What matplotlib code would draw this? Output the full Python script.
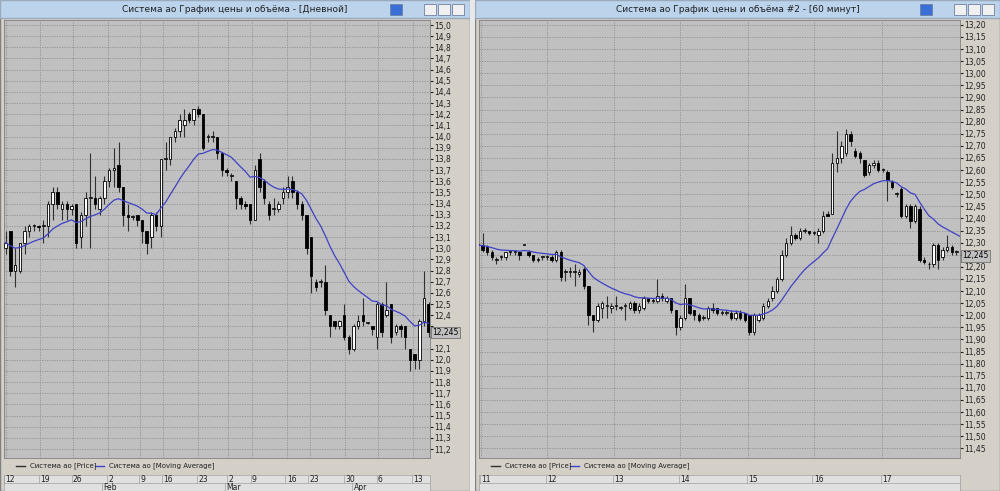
import numpy as np
import pandas as pd
import matplotlib
matplotlib.use("Agg")
import matplotlib.pyplot as plt
from matplotlib.patches import Rectangle
from matplotlib.lines import Line2D

# дневной график: (open, close, high, low)
left_ohlc = [
    (13.00, 13.05, 13.15, 12.95), (13.15, 12.80, 13.15, 12.75), (12.80, 12.85, 13.00, 12.65),
    (12.80, 13.05, 13.05, 12.78), (13.05, 13.15, 13.20, 12.95), (13.15, 13.20, 13.22, 13.10),
    (13.20, 13.20, 13.22, 13.15), (13.20, 13.19, 13.21, 13.15), (13.20, 13.20, 13.25, 13.05),
    (13.20, 13.40, 13.42, 13.10), (13.40, 13.50, 13.55, 13.25), (13.50, 13.40, 13.55, 13.35),
    (13.35, 13.40, 13.42, 13.25), (13.40, 13.35, 13.42, 13.25), (13.35, 13.38, 13.40, 13.30),
    (13.40, 13.05, 13.40, 13.00), (13.10, 13.30, 13.32, 13.00), (13.30, 13.45, 13.50, 13.20),
    (13.45, 13.45, 13.85, 13.00), (13.45, 13.40, 13.65, 13.35), (13.35, 13.45, 13.47, 13.30),
    (13.45, 13.60, 13.65, 13.40), (13.60, 13.70, 13.72, 13.55), (13.70, 13.72, 13.90, 13.55),
    (13.75, 13.55, 13.95, 13.50), (13.55, 13.30, 13.55, 13.20), (13.30, 13.28, 13.40, 13.15),
    (13.28, 13.28, 13.30, 13.25), (13.30, 13.25, 13.30, 13.20), (13.25, 13.15, 13.25, 13.05),
    (13.15, 13.05, 13.15, 12.95), (13.10, 13.30, 13.32, 13.00), (13.30, 13.20, 13.32, 13.15),
    (13.20, 13.80, 13.80, 13.10), (13.80, 13.80, 13.95, 13.70), (13.80, 14.00, 14.00, 13.75),
    (14.00, 14.05, 14.08, 13.95), (14.05, 14.15, 14.20, 14.00), (14.10, 14.15, 14.25, 14.00),
    (14.20, 14.15, 14.22, 14.12), (14.15, 14.25, 14.25, 14.10), (14.25, 14.20, 14.27, 14.18),
    (14.20, 13.90, 14.20, 13.88), (14.00, 14.00, 14.02, 13.95), (14.00, 14.00, 14.05, 13.95),
    (14.00, 13.85, 14.00, 13.80), (13.85, 13.70, 13.85, 13.65), (13.70, 13.68, 13.72, 13.65),
    (13.65, 13.65, 13.67, 13.60), (13.60, 13.45, 13.60, 13.35), (13.45, 13.40, 13.47, 13.35),
    (13.40, 13.38, 13.42, 13.35), (13.40, 13.25, 13.40, 13.22), (13.25, 13.70, 13.75, 13.25),
    (13.80, 13.55, 13.85, 13.50), (13.60, 13.45, 13.62, 13.40), (13.40, 13.30, 13.42, 13.25),
    (13.35, 13.35, 13.45, 13.30), (13.35, 13.40, 13.42, 13.32), (13.45, 13.50, 13.55, 13.40),
    (13.50, 13.55, 13.65, 13.45), (13.60, 13.50, 13.65, 13.45), (13.50, 13.40, 13.52, 13.35),
    (13.40, 13.30, 13.42, 13.25), (13.30, 13.00, 13.30, 12.95), (13.10, 12.75, 13.10, 12.60),
    (12.70, 12.65, 12.72, 12.62), (12.70, 12.70, 12.72, 12.65), (12.70, 12.45, 12.85, 12.40),
    (12.40, 12.30, 12.40, 12.20), (12.35, 12.30, 12.35, 12.28), (12.30, 12.35, 12.36, 12.28),
    (12.40, 12.20, 12.50, 12.18), (12.20, 12.10, 12.22, 12.05), (12.10, 12.30, 12.32, 12.08),
    (12.30, 12.35, 12.40, 12.28), (12.40, 12.35, 12.55, 12.30), (12.33, 12.33, 12.34, 12.32),
    (12.30, 12.28, 12.30, 12.22), (12.20, 12.50, 12.52, 12.10), (12.50, 12.25, 12.52, 12.20),
    (12.40, 12.45, 12.70, 12.38), (12.50, 12.20, 12.50, 12.15), (12.25, 12.30, 12.32, 12.22),
    (12.30, 12.28, 12.32, 12.20), (12.30, 12.20, 12.30, 12.10), (12.10, 12.00, 12.10, 11.90),
    (12.05, 12.00, 12.05, 11.92), (12.00, 12.35, 12.37, 11.92), (12.35, 12.55, 12.80, 12.30),
    (12.50, 12.25, 12.52, 12.20),
]

# 60-минутный график: (open, close, high, low)
right_ohlc = [
    (12.29, 12.29, 12.30, 12.28), (12.29, 12.27, 12.34, 12.26), (12.28, 12.26, 12.29, 12.25),
    (12.26, 12.24, 12.27, 12.23), (12.23, 12.23, 12.24, 12.21), (12.24, 12.24, 12.25, 12.23),
    (12.24, 12.26, 12.26, 12.23), (12.26, 12.26, 12.27, 12.25), (12.26, 12.26, 12.27, 12.25),
    (12.26, 12.25, 12.26, 12.23), (12.29, 12.29, 12.29, 12.29), (12.26, 12.25, 12.27, 12.24),
    (12.25, 12.23, 12.25, 12.22), (12.23, 12.23, 12.24, 12.22), (12.24, 12.24, 12.24, 12.23),
    (12.24, 12.24, 12.25, 12.23), (12.24, 12.23, 12.25, 12.22), (12.23, 12.26, 12.27, 12.22),
    (12.26, 12.16, 12.27, 12.14), (12.18, 12.18, 12.19, 12.14), (12.18, 12.18, 12.20, 12.16),
    (12.18, 12.18, 12.21, 12.12), (12.17, 12.18, 12.19, 12.16), (12.19, 12.12, 12.20, 12.11),
    (12.12, 12.00, 12.12, 11.96), (12.00, 11.98, 12.00, 11.93), (11.98, 12.04, 12.05, 11.97),
    (12.03, 12.05, 12.06, 11.99), (12.04, 12.04, 12.08, 11.99), (12.03, 12.04, 12.05, 12.01),
    (12.04, 12.04, 12.08, 12.02), (12.03, 12.03, 12.04, 12.02), (12.04, 12.04, 12.05, 11.98),
    (12.03, 12.05, 12.06, 12.02), (12.05, 12.02, 12.06, 12.01), (12.02, 12.04, 12.05, 12.01),
    (12.03, 12.07, 12.08, 12.02), (12.07, 12.06, 12.07, 12.05), (12.06, 12.06, 12.07, 12.05),
    (12.06, 12.08, 12.15, 12.05), (12.08, 12.07, 12.09, 12.06), (12.06, 12.07, 12.08, 12.05),
    (12.07, 12.02, 12.07, 12.01), (12.02, 11.95, 12.02, 11.92), (11.95, 11.99, 12.00, 11.94),
    (11.99, 12.07, 12.13, 11.98), (12.07, 12.01, 12.07, 12.00), (12.02, 12.00, 12.02, 11.98),
    (12.00, 11.98, 12.01, 11.97), (11.99, 11.99, 12.00, 11.98), (11.99, 12.03, 12.04, 11.98),
    (12.03, 12.02, 12.05, 12.01), (12.03, 12.01, 12.03, 12.00), (12.01, 12.01, 12.02, 12.00),
    (12.01, 12.01, 12.02, 12.00), (12.01, 11.99, 12.02, 11.98), (11.99, 12.01, 12.02, 11.98),
    (12.01, 11.99, 12.02, 11.98), (12.01, 11.98, 12.01, 11.97), (12.00, 11.93, 12.00, 11.92),
    (11.93, 12.00, 12.01, 11.92), (11.98, 12.00, 12.01, 11.97), (11.99, 12.04, 12.05, 11.98),
    (12.04, 12.06, 12.07, 12.03), (12.07, 12.10, 12.12, 12.06), (12.10, 12.15, 12.16, 12.09),
    (12.15, 12.25, 12.27, 12.14), (12.25, 12.30, 12.32, 12.24), (12.30, 12.33, 12.37, 12.29),
    (12.33, 12.32, 12.34, 12.31), (12.32, 12.35, 12.36, 12.31), (12.35, 12.35, 12.36, 12.34),
    (12.35, 12.34, 12.35, 12.33), (12.34, 12.34, 12.35, 12.33), (12.33, 12.35, 12.36, 12.30),
    (12.35, 12.41, 12.43, 12.34), (12.42, 12.41, 12.43, 12.41), (12.42, 12.63, 12.67, 12.42),
    (12.63, 12.65, 12.76, 12.59), (12.65, 12.70, 12.72, 12.63), (12.67, 12.75, 12.77, 12.66),
    (12.75, 12.72, 12.76, 12.70), (12.68, 12.66, 12.69, 12.65), (12.67, 12.65, 12.68, 12.63),
    (12.64, 12.58, 12.64, 12.57), (12.59, 12.62, 12.63, 12.58), (12.62, 12.63, 12.64, 12.61),
    (12.63, 12.60, 12.64, 12.59), (12.60, 12.60, 12.61, 12.59), (12.59, 12.56, 12.60, 12.47),
    (12.55, 12.53, 12.56, 12.52), (12.50, 12.50, 12.51, 12.49), (12.52, 12.41, 12.53, 12.40),
    (12.41, 12.45, 12.46, 12.40), (12.45, 12.39, 12.46, 12.36), (12.39, 12.45, 12.46, 12.38),
    (12.44, 12.23, 12.45, 12.22), (12.23, 12.22, 12.24, 12.21), (12.21, 12.21, 12.22, 12.19),
    (12.21, 12.29, 12.30, 12.20), (12.29, 12.23, 12.30, 12.19), (12.24, 12.27, 12.28, 12.23),
    (12.27, 12.28, 12.33, 12.26), (12.28, 12.26, 12.29, 12.25), (12.26, 12.26, 12.27, 12.25),
    (12.26, 12.245, 12.27, 12.24),
]

left_ticks = [0, 7.3, 14.3, 21.8, 28.6, 33.5, 41, 47.3, 52.4, 59.8, 64.7, 72.2, 79.2, 86.7]
left_tick_labels = ["12", "19", "26", "2", "9", "16", "23", "2", "9", "16", "23", "30", "6", "13"]
left_months = [(20.8, "Feb"), (46.9, "Mar"), (74, "Apr")]
left_yticks = np.round(np.arange(11.2, 15.01, 0.1), 1)

right_ticks = [0.7, 15, 29.6, 44, 58.7, 73, 87.8]
right_tick_labels = ["11", "12", "13", "14", "15", "16", "17"]
right_yticks = np.round(np.arange(11.45, 13.201, 0.05), 2)

last_price = 12.245

BG = "#d4d0c8"
PLOT_BG = "#c0c0c0"
MA_COLOR = "#4040c8"

fig = plt.figure(figsize=(10, 4.91), dpi=100)
fig.patch.set_facecolor("#e8e8e8")


def px_axes(l, t, w, h, **kw):
    return fig.add_axes([l / 1000, 1 - (t + h) / 491, w / 1000, h / 491], **kw)


def draw_window(x0, x1, title, ohlc, x_of0, step, ylo, yhi, yticks, fmt,
                ticks, tick_labels, months):
    frame = px_axes(x0, 0, x1 - x0, 491)
    frame.set_xlim(0, 1); frame.set_ylim(0, 1); frame.axis("off")
    frame.add_patch(Rectangle((0, 0), 1, 1, facecolor=BG, edgecolor="#808080", lw=1))
    frame.add_patch(Rectangle((0, 1 - 18 / 491), 1, 18 / 491, facecolor="#bcd3ec", edgecolor="#9ab"))
    frame.text(0.5, 1 - 9 / 491, title, ha="center", va="center", fontsize=6.5, color="#202020")
    w = x1 - x0
    for k, c in enumerate(["#3a6fd8", "#f0f0f0", "#f0f0f0", "#f0f0f0"]):
        bx = (w - 80) / w if k == 0 else (w - 60 + k * 14) / w
        frame.add_patch(Rectangle((bx, 1 - 15 / 491), 12 / w, 11 / 491, facecolor=c,
                                  edgecolor="#7080a0", lw=0.6))

    pl, pr = x0 + 4, x1 - 40
    ax = px_axes(pl, 20, pr - pl, 438)
    ax.set_facecolor(PLOT_BG)
    n = len(ohlc)
    o = np.array([r[0] for r in ohlc]); c = np.array([r[1] for r in ohlc])
    h = np.array([r[2] for r in ohlc]); lo = np.array([r[3] for r in ohlc])
    xs = np.arange(n)
    ax.set_xlim((pl - x_of0) / step, (pr - x_of0) / step)
    ax.set_ylim(ylo, yhi)
    ax.vlines(xs, lo, h, color="#303030", lw=0.8, zorder=3)
    up = c >= o
    bh = np.maximum(np.abs(c - o), (yhi - ylo) * 0.002)
    ax.bar(xs[up], bh[up], bottom=np.minimum(o, c)[up], width=0.55, color="white",
           edgecolor="black", lw=0.6, zorder=4)
    ax.bar(xs[~up], bh[~up], bottom=np.minimum(o, c)[~up], width=0.55, color="black",
           edgecolor="black", lw=0.6, zorder=4)
    ma = pd.Series(c).ewm(span=16, adjust=False).mean()
    ax.plot(xs, ma, color=MA_COLOR, lw=0.9, zorder=5)

    gap = (yhi - ylo) * 0.0155
    ax.set_yticks(yticks)
    ax.set_yticklabels([fmt.format(v).replace(".", ",") if abs(v - last_price) > gap else ""
                        for v in yticks])
    ax.yaxis.tick_right()
    ax.tick_params(axis="y", labelsize=5.5, length=2, pad=1, colors="#202020")
    ax.set_xticks(ticks)
    ax.tick_params(axis="x", length=0, labelbottom=False)
    ax.grid(True, color="#909090", ls=(0, (1.5, 1.5)), lw=0.6)
    for s in ax.spines.values():
        s.set_color("#808080"); s.set_linewidth(0.6)
    ax.text(1.005, (last_price - ylo) / (yhi - ylo), f"{last_price:.3f}".replace(".", ","),
            transform=ax.transAxes, fontsize=5.5, va="center", ha="left",
            bbox=dict(boxstyle="square,pad=0.15", fc=PLOT_BG, ec="#606060", lw=0.5))

    # legend row
    yl = 1 - 466 / 491
    fig.add_artist(Line2D([(x0 + 16) / 1000, (x0 + 25) / 1000], [yl, yl], color="#303030", lw=1))
    fig.text((x0 + 30) / 1000, yl, "Система ао [Price]", fontsize=5, color="#202020", va="center")
    fig.add_artist(Line2D([(x0 + 95) / 1000, (x0 + 104) / 1000], [yl, yl], color=MA_COLOR, lw=1))
    fig.text((x0 + 109) / 1000, yl, "Система ао [Moving Average]", fontsize=5,
             color="#202020", va="center")

    # date axis
    dax = px_axes(pl, 475, pr - pl, 16)
    dax.set_xlim(ax.get_xlim()); dax.set_ylim(0, 1)
    dax.set_facecolor("#e0e0e0")
    dax.set_xticks([]); dax.set_yticks([])
    dax.axhline(0.5, color="#a0a0a0", lw=0.5)
    for t, lab in zip(ticks, tick_labels):
        dax.axvline(t - 0.3, ymin=0.5, color="#a0a0a0", lw=0.5)
        dax.text(t, 0.75, lab, fontsize=5.5, va="center", ha="left", color="#202020")
    for t, lab in months:
        dax.axvline(t - 0.3, ymax=0.5, color="#a0a0a0", lw=0.5)
        dax.text(t, 0.25, lab, fontsize=5.5, va="center", ha="left", color="#202020")
    for s in dax.spines.values():
        s.set_color("#a0a0a0"); s.set_linewidth(0.5)


draw_window(0, 470, "Система ао График цены и объёма - [Дневной]", left_ohlc,
            5.7, 4.7, 11.12, 15.045, left_yticks, "{:.1f}",
            left_ticks, left_tick_labels, left_months)
draw_window(475, 1000, "Система ао График цены и объёма #2 - [60 минут]", right_ohlc,
            478, 4.6, 11.41, 13.22, right_yticks, "{:.2f}",
            right_ticks, right_tick_labels, [])

fig.savefig("out.png", dpi=100)
